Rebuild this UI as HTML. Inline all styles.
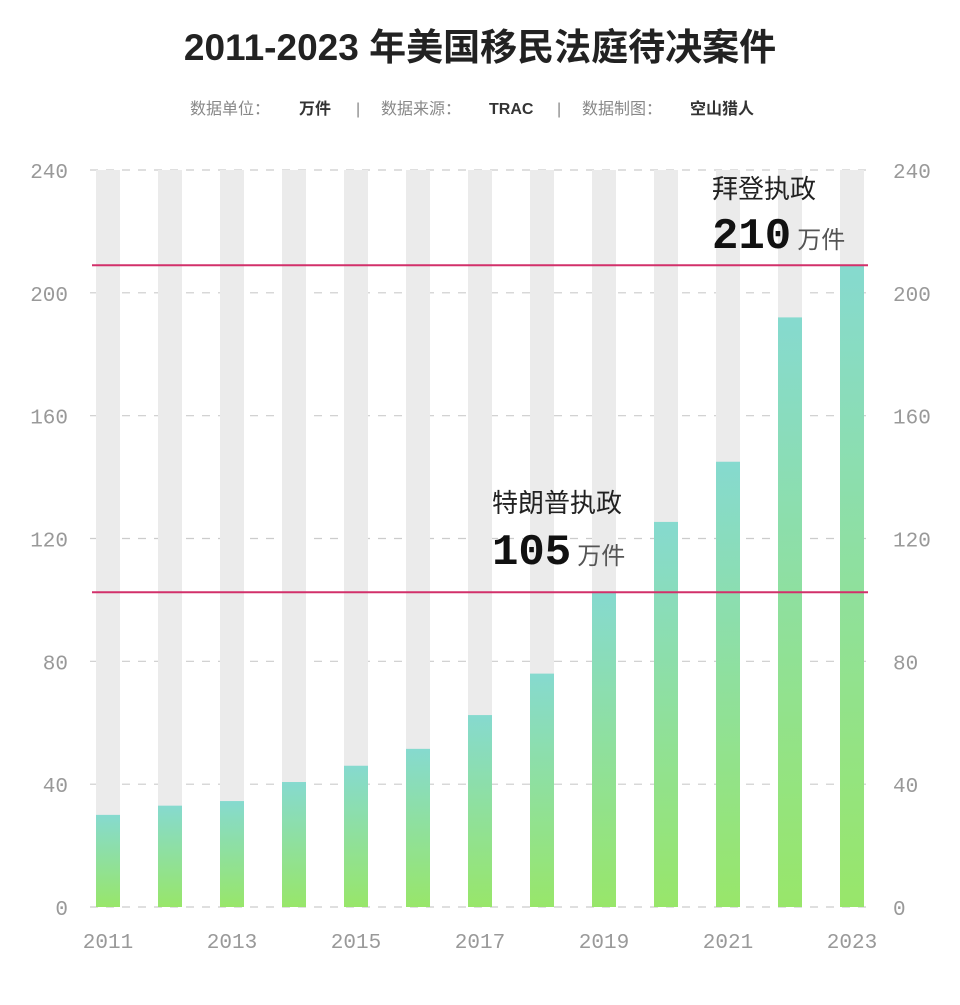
<!DOCTYPE html>
<html><head><meta charset="utf-8"><style>
body{margin:0;background:#fff;width:960px;height:1000px;overflow:hidden;font-family:"Liberation Sans","Noto Sans CJK SC",sans-serif}
</style></head><body>
<svg width="960" height="1000" xmlns="http://www.w3.org/2000/svg">
<defs><linearGradient id="g" x1="0" y1="0" x2="0" y2="1"><stop offset="0" stop-color="#86dacf"/><stop offset="1" stop-color="#98e66a"/></linearGradient></defs>
<text x="480" y="60" text-anchor="middle" font-size="37" font-weight="bold" fill="#222">2011-2023 年美国移民法庭待决案件</text>
<g font-size="16" fill="#888">
<text x="190" y="114">数据单位：</text>
<text x="299" y="114" font-weight="bold" fill="#333">万件</text>
<text x="356" y="114">|</text>
<text x="381" y="114">数据来源：</text>
<text x="489" y="114" font-weight="bold" fill="#333">TRAC</text>
<text x="557" y="114">|</text>
<text x="582" y="114">数据制图：</text>
<text x="690" y="114" font-weight="bold" fill="#333">空山猎人</text>
</g>
<g id="grid"></g><g id="bars"></g><g id="ref"></g><g id="labels"></g>
<text x="712" y="198" font-size="26" fill="#222">拜登执政</text>
<text x="712" y="248" font-size="44" font-weight="bold" fill="#111" font-family="'Liberation Mono',monospace">210<tspan font-size="24" font-weight="normal" fill="#555" dx="6" font-family="'Liberation Sans','Noto Sans CJK SC',sans-serif">万件</tspan></text>
<text x="492" y="512" font-size="26" fill="#222">特朗普执政</text>
<text x="492" y="564" font-size="44" font-weight="bold" fill="#111" font-family="'Liberation Mono',monospace">105<tspan font-size="24" font-weight="normal" fill="#555" dx="6" font-family="'Liberation Sans','Noto Sans CJK SC',sans-serif">万件</tspan></text>
</svg>
<script>
const years=[2011,2012,2013,2014,2015,2016,2017,2018,2019,2020,2021,2022,2023];
const values=[30,33,34.5,40.7,46,51.5,62.5,76,102.3,125.4,145,192,209];
const yTicks=[0,40,80,120,160,200,240];
const refValues=[209,102.5];
const ns="http://www.w3.org/2000/svg";
const y=v=>907-v*(737/240);
const x=i=>108+i*62;
function mk(t,a,p){const e=document.createElementNS(ns,t);for(const k in a)e.setAttribute(k,a[k]);p.appendChild(e);return e;}
const G=document.getElementById('grid'),B=document.getElementById('bars'),R=document.getElementById('ref'),L=document.getElementById('labels');
yTicks.forEach(t=>{
 const l=mk('line',{x1:90,x2:870,y1:y(t),y2:y(t),stroke:'#ccc','stroke-width':1.2,'stroke-dasharray':'8 8'},G);
 
 
 [[68,'end'],[893,'start']].forEach(([xx,an],k)=>{
  const e=mk('text',{x:xx,y:y(t)+8,'text-anchor':an,'font-size':21,fill:'#999','font-family':"'Liberation Mono',monospace"},L);
  e.textContent=t;
  
  
 });
});
years.forEach((yr,i)=>{
 const bg=mk('rect',{x:x(i)-12,y:y(240),width:24,height:y(0)-y(240),fill:'#ebebeb'},B);
 
 
 const r=mk('rect',{x:x(i)-12,y:y(values[i]),width:24,height:y(0)-y(values[i]),fill:'url(#g)'},B);
 
 
 if(i%2==0){
  const t=mk('text',{x:x(i),y:948,'text-anchor':'middle','font-size':21,fill:'#999','font-family':"'Liberation Mono',monospace"},L);
  t.textContent=yr;
  
  
 }
});
refValues.forEach((v,i)=>{
 const l=mk('line',{x1:92,x2:868,y1:y(v),y2:y(v),stroke:'#d2306a','stroke-width':2},R);
 
 
});
</script>
</body></html>
